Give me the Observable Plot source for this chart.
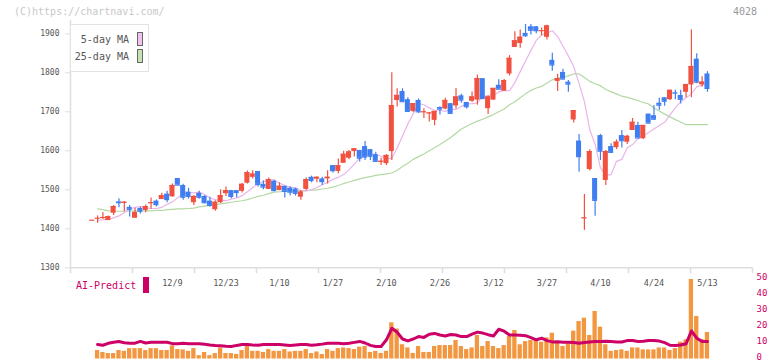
<!DOCTYPE html>
<html><head><meta charset="utf-8">
<script src="https://cdn.jsdelivr.net/npm/d3@7"></script>
<script src="https://cdn.jsdelivr.net/npm/@observablehq/plot@0.6"></script>
<style>
body{margin:0;background:#fff;}
#wrap{position:relative;width:772px;height:361px;overflow:hidden;font-family:"DejaVu Sans Mono",monospace;}
#wrap svg{position:absolute;left:0;top:0;}
.t{position:absolute;white-space:nowrap;line-height:1;}
</style></head><body>
<div id="wrap"></div>
<script>
// ---- data ----
const open = [1422,1427,1429,1421,1440,1469,1465,1455,1427,1452,
1447,1466,1471,1475,1489,1482,1529,1511,1494,1467,
1491,1483,1471,1449,1467,1490,1498,1498,1496,1517,
1532,1547,1514,1501,1522,1498,1509,1504,1502,1481,
1501,1532,1527,1528,1528,1562,1547,1568,1581,1598,
1601,1611,1603,1590,1572,1567,1598,1729,1752,1731,
1701,1729,1699,1696,1678,1711,1707,1721,1715,1741,
1724,1727,1730,1785,1708,1730,1768,1753,1797,1865,
1875,1901,1918,1918,1907,1891,1832,1778,1801,1776,
1679,1625,1427,1552,1529,1639,1524,1611,1608,1639,
1622,1652,1665,1631,1694,1690,1722,1736,1731,1749,
1742,1750,1769,1835,1769,1797];
const high = [1422,1433,1442,1433,1460,1477,1470,1460,1453,1455,
1461,1479,1474,1491,1496,1515,1529,1514,1504,1485,
1496,1485,1481,1472,1500,1507,1498,1498,1516,1548,
1549,1547,1523,1530,1524,1518,1509,1508,1504,1498,
1531,1535,1533,1532,1549,1562,1579,1599,1601,1605,
1601,1624,1603,1596,1581,1590,1800,1759,1759,1736,
1721,1733,1708,1698,1701,1713,1735,1721,1760,1745,
1724,1751,1794,1785,1741,1760,1782,1783,1844,1905,
1910,1924,1924,1918,1915,1922,1850,1796,1809,1780,
1703,1642,1488,1603,1529,1642,1601,1618,1628,1652,
1640,1683,1673,1665,1694,1716,1735,1736,1755,1755,
1755,1770,1910,1849,1790,1803];
const low = [1422,1414,1424,1421,1434,1454,1444,1430,1427,1438,
1441,1450,1456,1475,1467,1481,1512,1473,1476,1460,
1476,1464,1455,1445,1465,1483,1477,1479,1492,1515,
1528,1507,1500,1501,1495,1498,1479,1484,1484,1473,
1498,1518,1518,1511,1515,1543,1541,1568,1577,1584,
1571,1575,1575,1573,1562,1562,1575,1712,1726,1699,
1698,1696,1683,1674,1664,1692,1705,1696,1707,1722,
1707,1724,1717,1733,1693,1730,1758,1753,1792,1865,
1863,1891,1897,1900,1895,1884,1804,1752,1782,1750,
1671,1545,1396,1548,1432,1575,1511,1596,1603,1607,
1616,1652,1633,1629,1671,1679,1704,1714,1729,1731,
1720,1736,1736,1772,1763,1750];
const close = [1422,1427,1429,1431,1457,1467,1468,1450,1442,1445,
1457,1467,1462,1485,1475,1511,1512,1481,1483,1483,
1481,1467,1460,1468,1485,1498,1483,1493,1514,1544,
1540,1514,1507,1526,1498,1509,1496,1494,1491,1494,
1526,1524,1532,1521,1532,1549,1562,1591,1597,1605,
1581,1584,1586,1573,1573,1588,1716,1742,1726,1701,
1721,1700,1700,1697,1701,1707,1729,1696,1738,1730,
1713,1738,1785,1734,1738,1760,1758,1780,1837,1882,
1891,1895,1909,1908,1908,1920,1820,1785,1784,1771,
1703,1585,1428,1598,1473,1599,1598,1596,1622,1626,
1637,1673,1633,1665,1671,1681,1717,1727,1755,1748,
1732,1770,1816,1776,1776,1760];
const ma5 = [null,1422,1423,1425,1428,1433,1442,1450,1455,1457,
1454,1452,1452,1455,1463,1469,1480,1489,1493,1492,
1494,1488,1479,1475,1472,1472,1476,1479,1485,1495,
1506,1515,1521,1524,1526,1517,1511,1507,1505,1498,
1497,1500,1506,1513,1519,1527,1532,1539,1551,1566,
1581,1587,1592,1591,1586,1579,1581,1607,1638,1669,
1695,1721,1718,1710,1704,1704,1701,1707,1706,1714,
1720,1721,1723,1741,1740,1742,1751,1755,1754,1775,
1803,1830,1857,1883,1897,1902,1908,1893,1868,1843,
1816,1773,1726,1654,1617,1557,1537,1539,1573,1578,
1608,1616,1631,1638,1647,1656,1665,1673,1692,1710,
1726,1736,1746,1764,1768,1774];
const ma25 = [null,1451,1449,1446,1445,1445,1445,1446,1446,1446,
1446,1446,1447,1447,1449,1450,1451,1451,1452,1453,
1456,1458,1460,1462,1464,1466,1468,1470,1472,1475,
1479,1483,1486,1490,1494,1495,1496,1496,1497,1497,
1498,1499,1500,1502,1504,1507,1511,1516,1520,1524,
1528,1531,1534,1537,1539,1541,1543,1550,1560,1568,
1578,1585,1592,1600,1608,1616,1625,1634,1645,1656,
1663,1670,1676,1681,1687,1693,1700,1707,1718,1726,
1736,1746,1755,1761,1765,1774,1782,1786,1789,1792,
1797,1797,1788,1778,1772,1767,1757,1751,1746,1740,
1737,1733,1729,1724,1720,1710,1702,1694,1687,1680,
1674,1667,1667,1667,1667,1667];
const aiBars = [null,5.3,4.1,3.4,3.4,5.3,4.8,6.5,6.5,6.5,
5.3,6.5,6.5,5.3,5.3,8.2,5.9,5.7,4.8,6.5,
2.1,4.1,2.1,3.4,6.9,3.4,3.4,2.8,5.3,8.2,
4.8,4.8,4.1,5.9,4.8,4.8,5.9,4.4,4.8,4.8,
5.9,3.4,4.4,2.8,5.9,4.8,6.5,6.9,6.5,5.9,
7.4,7.8,4.1,4.8,3.5,4.8,22.6,18.7,8.9,6.9,
3.5,7.8,4.1,4.1,7.8,8.4,8.4,8.4,11.6,7.8,
5.9,6.9,14.7,7.8,10.9,7.8,6.5,8.4,14.0,17.8,
8.9,10.9,11.6,11.6,10.5,13.2,16.1,9.9,7.8,9.5,
17.4,23.4,25.5,14.7,29.7,19.9,8.9,4.8,5.3,5.7,
4.8,6.9,6.9,5.7,5.7,5.7,6.9,6.9,5.3,6.5,
10.5,12.0,49.7,26.6,12.0,16.6];
const aiLine = [null,9.1,8.6,9.8,10.5,10.9,10.2,9.9,9.9,11.0,
10.0,10.4,10.5,10.5,10.5,9.6,9.5,9.8,9.6,9.5,
9.5,9.2,8.8,8.5,8.3,8.0,7.8,8.5,9.1,9.0,
8.7,8.6,9.1,9.1,9.1,9.1,8.8,8.5,8.8,9.1,
9.1,8.6,8.9,9.3,9.9,9.9,9.9,9.6,9.8,10.4,
11.0,10.0,8.5,7.8,7.8,12.0,19.2,16.7,12.5,11.3,
12.5,14.0,13.5,15.5,16.0,15.0,14.4,15.3,15.0,14.0,
14.0,15.5,16.8,16.2,15.2,14.4,18.6,17.4,15.0,15.0,
14.8,14.6,13.4,12.0,13.0,11.5,10.7,10.8,10.5,10.5,
10.3,9.9,10.3,10.6,10.9,11.0,11.1,10.9,10.7,10.6,
11.5,11.5,11.0,11.1,11.5,11.6,11.2,10.2,8.6,8.5,
8.7,9.5,17.5,13.0,11.0,11.0];
const dateLabels = ["12/9","12/23","1/10","1/27","2/10","2/26","3/12","3/27","4/10","4/24","5/13"];
const dateIndex = [15,25,35,45,55,65,75,85,95,105,115];
const priceTicks = [1300,1400,1500,1600,1700,1800,1900];
const aiTicks = [0,10,20,30,40,50];

// ---- build ----
const RED = "#f2513f", BLUE = "#3f7ef0";
const candles = close.map((c,i)=>({i, o:open[i], h:high[i], l:low[i], c}));
const up = candles.filter(d=>d.c>=d.o), down = candles.filter(d=>d.c<d.o);
const xDomain = [-4.06, 123.42], xRange = [70, 752];
const gridTicks = d3.range(12).map(k => xDomain[0] + k*(xDomain[1]-xDomain[0])/11);
const ser = a => a.map((v,i)=>({i,v})).filter(d=>d.v!=null);
const hw = 0.47;
const font = "DejaVu Sans Mono";

const candleMarks = (data, col) => [
  Plot.ruleX(data, {x:"i", y1:"l", y2:"h", stroke:col, strokeWidth:1.2}),
  Plot.rect(data, {x1:d=>d.i-hw, x2:d=>d.i+hw, y1:"o", y2:"c", fill:col}),
  Plot.ruleY(data, {y:"c", x1:d=>d.i-hw, x2:d=>d.i+hw, stroke:col, strokeWidth:1.2}),
];

const topPlot = Plot.plot({
  width:772, height:361, marginLeft:70, marginRight:20, marginTop:20, marginBottom:93.7,
  x:{domain:xDomain, range:xRange, label:null},
  y:{domain:[1300,1900], range:[267.3,33.3], label:null},
  style:{background:"transparent", fontFamily:font, overflow:"visible"},
  marks:[
    Plot.ruleY([1300], {x1:xDomain[0], x2:xDomain[1], stroke:"#dedede", strokeWidth:1.5}),
    Plot.ruleX([xDomain[0]], {y1:1300, y2:1934, stroke:"#dedede", strokeWidth:1.5}),
    Plot.ruleX(gridTicks, {x:d=>d, y1:1285, y2:1300, stroke:"#dedede", strokeWidth:1.5}),
    Plot.axisY({ticks:priceTicks, label:null, tickSize:5, tickPadding:6, stroke:"#dedede", fill:"#555", fontSize:8, fontFamily:font, tickFormat:d=>String(d)}),
    Plot.axisX({ticks:dateIndex, label:null, tickFormat:d=>dateLabels[dateIndex.indexOf(d)], tickSize:0, tickPadding:12, fill:"#555", fontSize:8.5, fontFamily:font}),
    Plot.line(ser(ma25), {x:"i", y:"v", stroke:"#b3d9a3", strokeWidth:1.2}),
    Plot.line(ser(ma5), {x:"i", y:"v", stroke:"#e9b4ea", strokeWidth:1.2}),
    ...candleMarks(up, RED),
    ...candleMarks(down, BLUE),
  ]
});

const botPlot = Plot.plot({
  width:772, height:361, marginLeft:70, marginRight:20, marginTop:278.5, marginBottom:2.5,
  x:{domain:xDomain, range:xRange, axis:null, label:null},
  y:{domain:[0,50], range:[358.5,278.5], label:null},
  style:{background:"transparent", fontFamily:font, overflow:"visible"},
  marks:[
    Plot.rect(ser(aiBars), {x1:d=>d.i-0.4, x2:d=>d.i+0.4, y1:0, y2:"v", fill:"#f2963f"}),
    Plot.line(ser(aiLine), {x:"i", y:"v", stroke:"#cc0066", strokeWidth:3}),
    Plot.axisY({anchor:"right", label:null, ticks:aiTicks, tickSize:0, tickPadding:4, dy:-1.5, fill:"#cc0066", fontSize:9, fontFamily:font, tickFormat:d=>String(d)}),
  ]
});

const wrap = document.getElementById("wrap");
wrap.appendChild(topPlot);
wrap.appendChild(botPlot);

function addText(txt, x, y, opt) {
  const el = document.createElement("div");
  el.className = "t";
  el.textContent = txt;
  Object.assign(el.style, {left:x+"px", top:y+"px"}, opt||{});
  wrap.appendChild(el);
  return el;
}
function addBox(x,y,w,h,opt){
  const el = document.createElement("div");
  Object.assign(el.style, {position:"absolute", left:x+"px", top:y+"px", width:w+"px", height:h+"px", boxSizing:"border-box"}, opt||{});
  wrap.appendChild(el);
  return el;
}
addText("(C)https://chartnavi.com/", 14, 7, {fontSize:"10px", color:"#c8c8c8"});
addText("4028", 733, 7, {fontSize:"10px", color:"#999"});
// legend
addBox(70, 24, 79, 48, {border:"1px solid #e2e2e2", background:"#fff"});
addText("5-day MA", 0, 35, {fontSize:"10px", color:"#555", width:"129px", textAlign:"right"});
addText("25-day MA", 0, 52, {fontSize:"10px", color:"#555", width:"129px", textAlign:"right"});
addBox(136.5, 31.5, 6.5, 14.5, {border:"1px solid #666", background:"#f2c2f0"});
addBox(136.5, 48.5, 6.5, 14.5, {border:"1px solid #666", background:"#c4e2b4"});
// AI-Predict label
addText("AI-Predict", 76, 280.5, {fontSize:"10px", color:"#cc0066"});
addBox(142.5, 277.3, 6.5, 15.5, {background:"#cc0066"});
</script>
</body></html>
